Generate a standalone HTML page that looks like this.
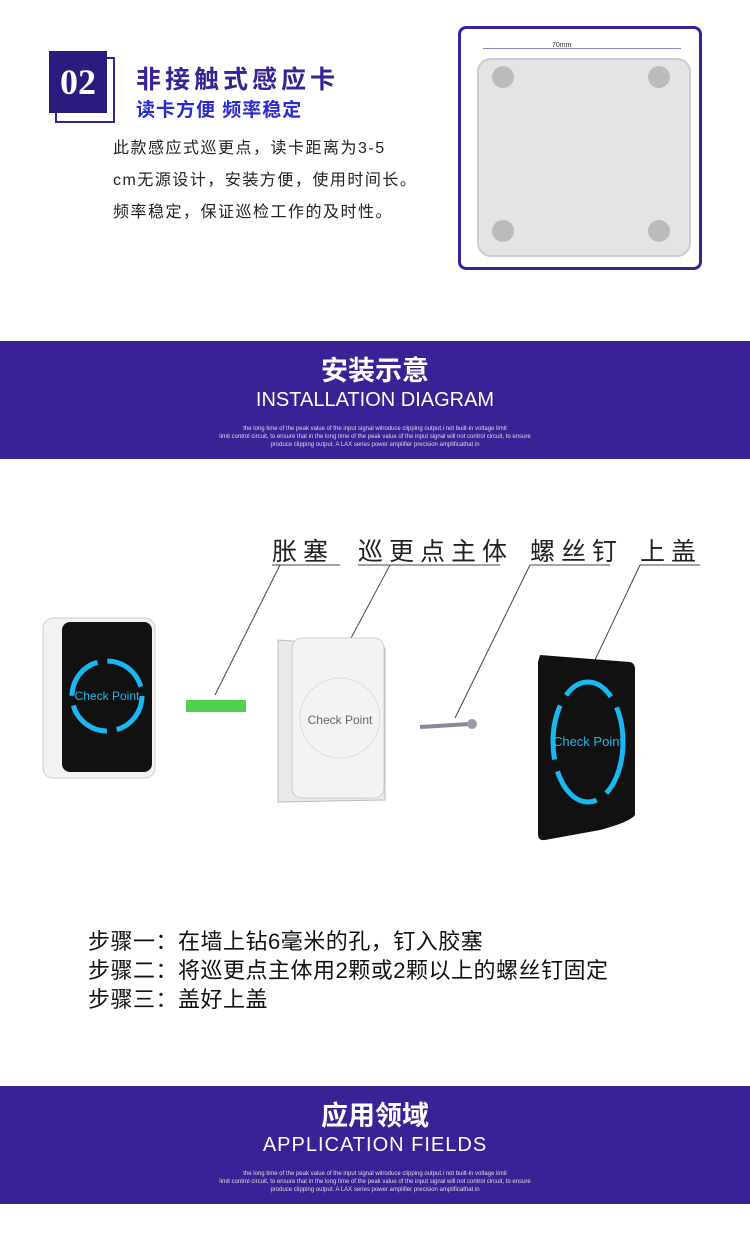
<!DOCTYPE html>
<html><head><meta charset="utf-8"><style>
body{margin:0;width:750px;height:1247px;background:#fff;position:relative;overflow:hidden;font-family:"Liberation Sans","Noto Sans CJK SC",sans-serif}
.a{position:absolute}
.ban{position:absolute;left:0;width:750px;height:118px;background:#3a2195;color:#fff;text-align:center}
.ban .t{position:absolute;top:8px;width:100%;font-size:27px;font-weight:bold}
.ban .e{position:absolute;top:48px;width:100%;font-size:20px}
.ban .s{position:absolute;top:84px;width:100%;font-size:6px;line-height:8px;color:#ddd}
.cj{font-family:"Liberation Sans","Noto Sans CJK SC",sans-serif}
</style></head><body>
<div class="a" style="left:55px;top:57px;width:56px;height:62px;border:2px solid #3a2195;"></div>
<div class="a" style="left:49px;top:51px;width:58px;height:62px;background:#2d1a7e;color:#fff;font:bold 36px 'Liberation Serif',serif;text-align:center;line-height:62px">02</div>
<div class="a cj" style="left:136px;top:60px;font-size:25px;font-weight:bold;color:#3a2195;letter-spacing:4px">非接触式感应卡</div>
<div class="a cj" style="left:136px;top:95px;font-size:19px;font-weight:bold;color:#2a2ad0;letter-spacing:1px">读卡方便 频率稳定</div>
<div class="a cj" style="left:113px;top:133px;font-size:16px;line-height:32px;color:#222;letter-spacing:1.5px">此款感应式巡更点，读卡距离为3-5<br>cm无源设计，安装方便，使用时间长。<br>频率稳定，保证巡检工作的及时性。</div>
<div class="a" style="left:458px;top:26px;width:238px;height:238px;border:3px solid #3a2195;border-radius:8px;background:#fff"></div>
<div class="a" style="left:477px;top:58px;width:210px;height:195px;background:#e4e4e4;border:2px solid #ccc;border-radius:14px"></div>
<div class="a" style="left:483px;top:48px;width:198px;border-top:1px solid #88c"></div>
<div class="a" style="left:552px;top:42px;font-size:7px;color:#333">70mm</div>
<div class="a" style="left:492px;top:66px;width:22px;height:22px;border-radius:50%;background:#bbb"></div>
<div class="a" style="left:648px;top:66px;width:22px;height:22px;border-radius:50%;background:#bbb"></div>
<div class="a" style="left:492px;top:220px;width:22px;height:22px;border-radius:50%;background:#bbb"></div>
<div class="a" style="left:648px;top:220px;width:22px;height:22px;border-radius:50%;background:#bbb"></div>

<div class="ban" style="top:341px"><div class="t">安装示意</div><div class="e">INSTALLATION DIAGRAM</div><div class="s">the long time of the peak value of the input signal wilroduce clipping output.i not built-in voltage limit<br>limit control circuit, to ensure that in the long time of the peak value of the input signal will not control circuit, to ensure<br>produce clipping output. A LAX series power amplifier precision amplificathat in</div></div>

<div class="a cj" style="left:272px;top:532px;font-size:25px;color:#222;letter-spacing:6px">胀塞</div>
<div class="a cj" style="left:358px;top:532px;font-size:25px;color:#222;letter-spacing:6px">巡更点主体</div>
<div class="a cj" style="left:530px;top:532px;font-size:25px;color:#222;letter-spacing:6px">螺丝钉</div>
<div class="a cj" style="left:640px;top:532px;font-size:25px;color:#222;letter-spacing:6px">上盖</div>
<svg class="a" style="left:0;top:560px" width="750" height="300">
<g stroke="#444" fill="none" stroke-width="1">
<line x1="272" y1="5" x2="340" y2="5"/><line x1="280" y1="5" x2="215" y2="135"/>
<line x1="358" y1="5" x2="500" y2="5"/><line x1="390" y1="5" x2="350" y2="80"/>
<line x1="530" y1="5" x2="610" y2="5"/><line x1="530" y1="5" x2="455" y2="158"/>
<line x1="640" y1="5" x2="700" y2="5"/><line x1="640" y1="5" x2="595" y2="100"/>
</g>
<rect x="43" y="58" width="112" height="160" rx="10" fill="#f2f2f2" stroke="#ccc"/>
<rect x="62" y="62" width="90" height="150" rx="8" fill="#111"/>
<circle cx="107" cy="136" r="35" fill="none" stroke="#1ab8f0" stroke-width="5" stroke-dasharray="45 10"/>
<text x="107" y="140" font-size="12" fill="#1ab8f0" text-anchor="middle" font-family="Liberation Sans">Check Point</text>
<rect x="186" y="140" width="60" height="12" fill="#4fd04f"/>
<path d="M278 80 L385 88 L385 240 L278 242 Z" fill="#eaeaea" stroke="#bbb"/>
<rect x="292" y="78" width="92" height="160" rx="10" fill="#f3f3f3" stroke="#ccc"/>
<circle cx="340" cy="158" r="40" fill="none" stroke="#ddd"/>
<text x="340" y="164" font-size="12" fill="#666" text-anchor="middle" font-family="Liberation Sans">Check Point</text>
<line x1="420" y1="167" x2="470" y2="164" stroke="#889" stroke-width="4"/>
<circle cx="472" cy="164" r="5" fill="#99a"/>
<path d="M540 95 L630 102 Q635 103 635 110 L635 255 Q630 262 600 270 L545 280 Q538 281 538 274 L538 102 Z" fill="#111"/>
<ellipse cx="588" cy="182" rx="35" ry="60" fill="none" stroke="#1ab8f0" stroke-width="5" stroke-dasharray="55 12"/>
<text x="588" y="186" font-size="13" fill="#1ab8f0" text-anchor="middle" font-family="Liberation Sans">Check Point</text>
</svg>
<div class="a cj" style="left:88px;top:927px;font-size:22px;line-height:29px;color:#111;letter-spacing:0.5px">步骤一：在墙上钻6毫米的孔，钉入胶塞<br>步骤二：将巡更点主体用2颗或2颗以上的螺丝钉固定<br>步骤三：盖好上盖</div>

<div class="ban" style="top:1086px"><div class="t">应用领域</div><div class="e" style="letter-spacing:1px">APPLICATION FIELDS</div><div class="s">the long time of the peak value of the input signal wilroduce clipping output.i not built-in voltage limit<br>limit control circuit, to ensure that in the long time of the peak value of the input signal will not control circuit, to ensure<br>produce clipping output. A LAX series power amplifier precision amplificathat in</div></div>
</body></html>
